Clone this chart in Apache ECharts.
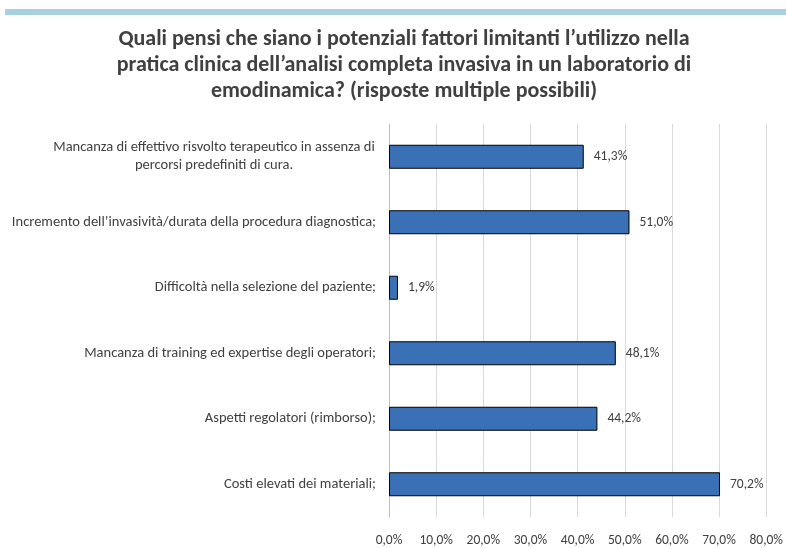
<!DOCTYPE html>
<html><head><meta charset="utf-8">
<script src="https://cdn.jsdelivr.net/npm/echarts@6/dist/echarts.min.js"></script>
<style>html,body{margin:0;padding:0;background:#fff;overflow:hidden}#c{width:786px;height:548px}</style>
</head><body><div id="c"></div>
<script>
const titleLines = [
  "Quali pensi che siano i potenziali fattori limitanti l\u2019utilizzo nella",
  "pratica clinica dell\u2019analisi completa invasiva in un laboratorio di",
  "emodinamica? (risposte multiple possibili)"
];
const categories = [
  "Mancanza di effettivo risvolto terapeutico in assenza di\npercorsi predefiniti di cura.",
  "Incremento dell\u2019invasivit\u00e0/durata della procedura diagnostica;",
  "Difficolt\u00e0 nella selezione del paziente;",
  "Mancanza di training ed expertise degli operatori;",
  "Aspetti regolatori (rimborso);",
  "Costi elevati dei materiali;"
];
const values = [41.3, 51.0, 1.9, 48.1, 44.2, 70.2];
const xTicks = [0, 10, 20, 30, 40, 50, 60, 70, 80];

const FONT = "Carlito, 'Liberation Sans Narrow', 'Open Sans', sans-serif";
const fmt = v => v.toFixed(1).replace('.', ',') + '%';

const chart = echarts.init(document.getElementById('c'), null, {renderer: 'canvas', width: 786, height: 548});
chart.setOption({
  animation: false,
  backgroundColor: '#fff',
  graphic: [
    {type: 'rect', shape: {x: 5, y: 9, width: 781, height: 6}, style: {fill: '#a8d0e4'}},
    {type: 'text', x: 404, y: 26, style: {text: titleLines.join('\n'), align: 'center', verticalAlign: 'top',
      font: "bold 22px " + FONT, lineHeight: 26, fill: '#404040'}}
  ],
  grid: {left: 389, width: 382, top: 124, height: 400, containLabel: false},
  xAxis: {
    type: 'value', min: xTicks[0], max: xTicks[xTicks.length - 1], interval: 10,
    axisLine: {show: false}, axisTick: {show: false},
    splitLine: {lineStyle: {color: '#d9d9d9', width: 1}},
    axisLabel: {formatter: v => fmt(v), color: '#404040', fontFamily: FONT, fontSize: 13.5, margin: 17}
  },
  yAxis: {
    type: 'category', data: categories, inverse: true,
    axisLine: {lineStyle: {color: '#bfbfbf'}}, axisTick: {show: false},
    axisLabel: {
      color: '#404040', fontFamily: FONT, fontSize: 14.5, margin: 13, lineHeight: 18,
      formatter: v => v.indexOf('\n') >= 0 ? v.split('\n').map(s => '{c|' + s + '}').join('\n') : v,
      rich: {c: {width: 324, align: 'center', color: '#404040', fontFamily: FONT, fontSize: 14.5, lineHeight: 18}}
    }
  },
  series: [{
    type: 'bar', data: values, barWidth: 24,
    itemStyle: {color: '#3a70b5', borderColor: '#000', borderWidth: 1},
    label: {show: true, position: 'right', distance: 10, formatter: p => fmt(p.value),
      color: '#404040', fontFamily: FONT, fontSize: 13.5}
  }]
});
</script></body></html>
